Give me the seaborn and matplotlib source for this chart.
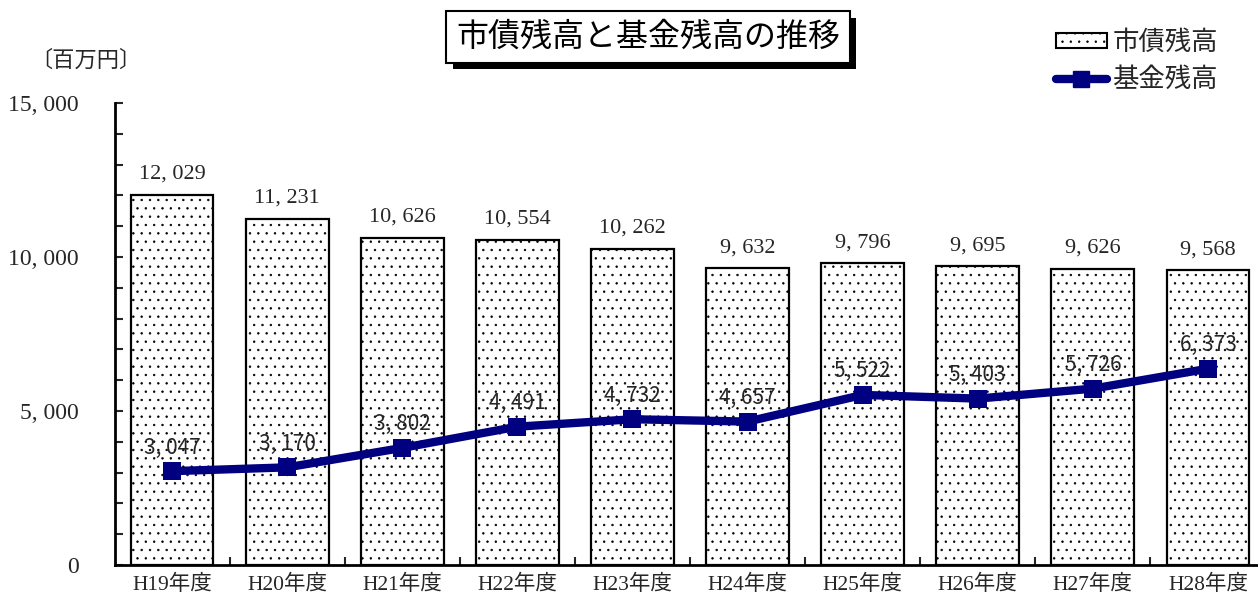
import numpy as np
import pandas as pd
import matplotlib
matplotlib.use("Agg")
import matplotlib.pyplot as plt
import matplotlib.patheffects as pe
from matplotlib.patches import Patch
from matplotlib.lines import Line2D
from matplotlib.ticker import FuncFormatter, MultipleLocator
import seaborn as sns

# data
years = ['H19年度', 'H20年度', 'H21年度', 'H22年度', 'H23年度',
         'H24年度', 'H25年度', 'H26年度', 'H27年度', 'H28年度']
debt = [12029, 11231, 10626, 10554, 10262, 9632, 9796, 9695, 9626, 9568]
fund = [3047, 3170, 3802, 4491, 4732, 4657, 5522, 5403, 5726, 6373]

sns.set_theme(style='white')
plt.rcParams['font.family'] = ['Noto Sans CJK JP', 'DejaVu Sans']
plt.rcParams['hatch.linewidth'] = 0.5

serif_jp = ['Liberation Serif', 'Noto Sans CJK JP']
navy = '#000080'


def fmt(v):
    return f'{int(v):,}'.replace(',', ', ')


df = pd.DataFrame({'year': years, 'debt': debt, 'fund': fund})

fig = plt.figure(figsize=(12.58, 6.01), dpi=100)
ax = fig.add_axes([114.5 / 1258, 36 / 601, 1151 / 1258, 462 / 601])

sns.barplot(ax=ax, data=df, x='year', y='debt', color='white', saturation=1,
            width=0.72, edgecolor='black', linewidth=1.6, hatch='..')
sns.lineplot(ax=ax, x=np.arange(len(fund)), y=fund, color=navy, linewidth=6,
             marker='s', markersize=12.5, markeredgewidth=0)

ax.set_xlim(-0.5, len(years) - 0.5)
ax.set_ylim(0, 15000)
ax.set_xlabel('')
ax.set_ylabel('')

# bar value labels
for i, v in enumerate(debt):
    ax.annotate(fmt(v), (i, v), xytext=(0, 8), textcoords='offset points',
                ha='center', va='bottom', fontsize=16, family=serif_jp)
# fund value labels
for i, v in enumerate(fund):
    ax.annotate(fmt(v), (i, v), xytext=(0, 9), textcoords='offset points',
                ha='center', va='bottom', fontsize=15, family=['Noto Sans CJK JP'])

# axes styling
sns.despine(ax=ax, top=True, right=True)
for side in ['left', 'bottom']:
    ax.spines[side].set_linewidth(2)
    ax.spines[side].set_color('black')
ax.yaxis.set_major_locator(MultipleLocator(5000))
ax.yaxis.set_minor_locator(MultipleLocator(1000))
ax.yaxis.set_major_formatter(FuncFormatter(lambda v, p: fmt(v)))
ax.tick_params(axis='y', which='both', direction='in', length=6, width=1.5,
               left=True, pad=26, labelsize=17)
for lab in ax.get_yticklabels():
    lab.set_family(serif_jp)

ax.set_xticks(np.arange(len(years)))
ax.set_xticklabels(years, family=serif_jp, fontsize=15.5)
ax.tick_params(axis='x', which='major', length=0, pad=7)
ax.set_xticks(np.arange(len(years)) + 0.5, minor=True)
ax.tick_params(axis='x', which='minor', direction='in', length=6, width=1.5,
               bottom=True)

fig.text(30 / 1258, 1 - 60 / 601, '〔百万円〕', fontsize=16, va='center',
         ha='left')

# title in a box with a black drop shadow
title = fig.text(648 / 1258, 1 - 37 / 601, '市債残高と基金残高の推移', fontsize=23,
                 ha='center', va='center', color='black',
                 bbox=dict(boxstyle='square,pad=0.3', fc='white', ec='black', lw=1.5))
title.get_bbox_patch().set_path_effects(
    [pe.SimplePatchShadow(offset=(4.5, -4.5), shadow_rgbFace='black', alpha=1),
     pe.Normal()])

handles = [Patch(facecolor='white', edgecolor='black', hatch='..', lw=1.5),
           Line2D([0], [0], color=navy, lw=6, marker='s', markersize=11)]
fig.legend(handles, ['市債残高', '基金残高'], loc='upper left',
           bbox_to_anchor=(1032 / 1258, 1 - 5 / 601), frameon=False,
           fontsize=19, handlelength=1.95, handleheight=0.5, handletextpad=0.2,
           labelspacing=0.4)

fig.savefig('out.png', dpi=100)
